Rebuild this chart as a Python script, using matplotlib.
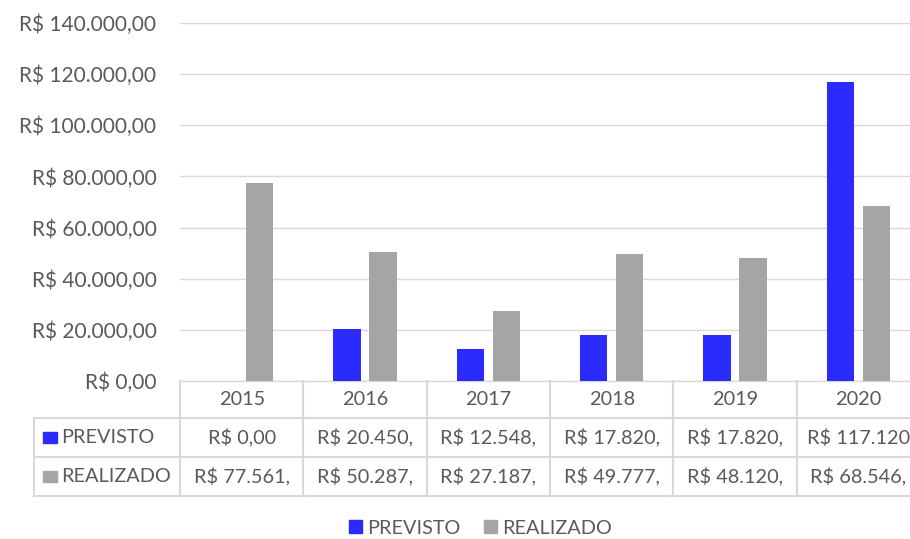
import matplotlib.pyplot as plt
import matplotlib.transforms as mtransforms
from matplotlib.patches import Rectangle
import numpy as np

# chart data
years = ['2015', '2016', '2017', '2018', '2019', '2020']
previsto = [0, 20450, 12548, 17820, 17820, 117120]
realizado = [77561, 50287, 27187, 49777, 48120, 68546]
series_names = ['PREVISTO', 'REALIZADO']
y_ticks = [0, 20000, 40000, 60000, 80000, 100000, 120000, 140000]

BLUE = '#2b2bff'
GRAY = '#a5a5a5'
TEXT = '#595959'
LINE = '#d9d9d9'
FS = 14.3

plt.rcParams['font.family'] = ['Lato', 'DejaVu Sans']


def brl(v):
    """Format as Brazilian real, e.g. R$ 20.450,00"""
    s = f"{v:,.2f}".replace(',', '_').replace('.', ',').replace('_', '.')
    return 'R$ ' + s


def cell_text(v):
    # Excel cuts the text that doesn't fit the cell
    return brl(v)[:10]


fig = plt.figure(figsize=(9.1, 5.39), dpi=100)
ax = fig.add_axes([0.1978, 0.2931, 0.8132, 0.6642])

x = np.arange(len(years))
w = 0.22
off = 0.146
ax.bar(x - off, previsto, w, color=BLUE, zorder=3)
ax.bar(x + off, realizado, w, color=GRAY, zorder=3)

ax.set_xlim(-0.5, len(years) - 0.5)
ax.set_ylim(0, 140000)
ax.set_yticks(y_ticks)
ax.set_yticklabels([brl(t) for t in y_ticks], fontsize=15, color=TEXT)
ax.set_xticks([])
ax.tick_params(axis='y', length=0, pad=17)
ax.grid(axis='y', color=LINE, linewidth=1, zorder=0)
for s in ['top', 'right', 'left']:
    ax.spines[s].set_visible(False)
ax.spines['bottom'].set_color(LINE)
ax.spines['bottom'].set_linewidth(1)

# data table below the axis (x in data units, y in axes fraction)
tr = mtransforms.blended_transform_factory(ax.transData, ax.transAxes)
row_y = [0.0, -0.1034, -0.2123, -0.3212]
label_left = -0.5 - 146 / 123.3
kw = dict(transform=tr, clip_on=False, color=LINE, linewidth=1.5)

# horizontal lines
ax.plot([-0.5, len(years) - 0.5], [row_y[1]] * 2, **kw)
for yy in row_y[2:]:
    ax.plot([label_left, len(years) - 0.5], [yy, yy], **kw)
ax.plot([label_left, -0.5], [row_y[1], row_y[1]], **kw)
# vertical lines
for i in range(len(years) + 1):
    ax.plot([i - 0.5, i - 0.5], [row_y[0], row_y[3]], **kw)
ax.plot([label_left, label_left], [row_y[1], row_y[3]], **kw)

for i, yr in enumerate(years):
    ax.text(i, (row_y[0] + row_y[1]) / 2, yr, transform=tr, ha='center',
            va='center', fontsize=FS, color=TEXT, clip_on=False)

for r, (name, vals, col) in enumerate(zip(series_names, [previsto, realizado], [BLUE, GRAY])):
    yc = (row_y[r + 1] + row_y[r + 2]) / 2
    ax.add_patch(Rectangle((label_left + 0.07, yc - 0.0155), 0.115, 0.031,
                           transform=tr, clip_on=False, color=col))
    ax.text(label_left + 0.22, yc, name, transform=tr, ha='left', va='center',
            fontsize=FS, color=TEXT, clip_on=False)
    for i, v in enumerate(vals):
        ax.text(i, yc, cell_text(v), transform=tr, ha='center', va='center',
                fontsize=FS, color=TEXT, clip_on=False)

# legend
handles = [Rectangle((0, 0), 1, 1, color=BLUE), Rectangle((0, 0), 1, 1, color=GRAY)]
fig.legend(handles, series_names, loc='center', bbox_to_anchor=(0.528, 0.02),
           ncol=2, frameon=False, fontsize=FS, labelcolor=TEXT,
           handlelength=0.65, handleheight=0.65, handletextpad=0.25,
           columnspacing=1.2)

fig.savefig('out.png', dpi=100)
